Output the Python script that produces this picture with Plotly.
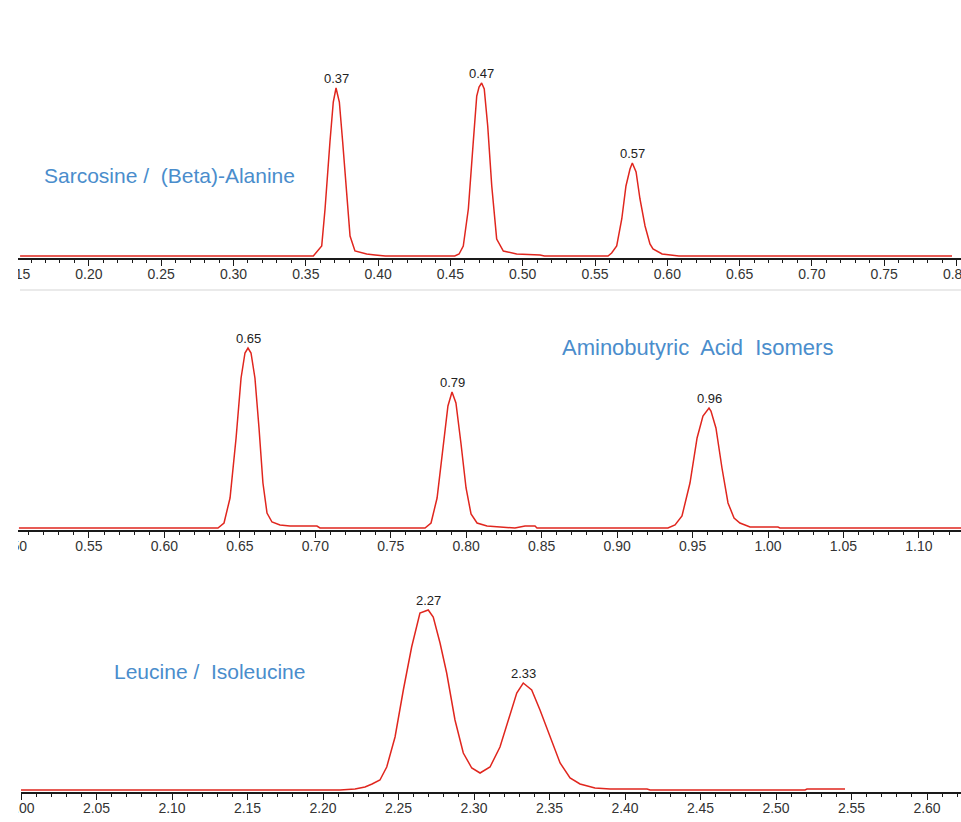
import plotly.graph_objects as go

# ---------------- data (retention time in min, detector signal in arbitrary units) -------------
t_sarc = [0.1524, 0.3552, 0.3610, 0.3633, 0.3667, 0.3690, 0.3709, 0.3732, 0.3755, 0.3783, 0.3806,
          0.3840, 0.3921, 0.3979, 0.4050, 0.4530, 0.4560, 0.4589, 0.4624, 0.4658, 0.4682, 0.4698,
          0.4716, 0.4734, 0.4758, 0.4786, 0.4820, 0.4866, 0.4958, 0.5120, 0.5150, 0.5590, 0.5615,
          0.5650, 0.5685, 0.5714, 0.5742, 0.5758, 0.5784, 0.5811, 0.5846, 0.5880, 0.5901, 0.5964,
          0.6054, 0.6080, 0.7969]
s_sarc = [0, 0, 10, 47, 114, 154, 168, 154, 114, 64, 20,
          5, 2, 1, 0, 0, 2, 10, 47, 114, 160, 169,
          173, 167, 130, 70, 17, 5, 2, 1, 0, 0, 3,
          10, 37, 70, 87, 93, 84, 57, 30, 12, 7, 2,
          1, 0, 0]
peak_sarc_t = [0.3709, 0.4716, 0.5758]
peak_sarc_s = [168, 173, 93]
peak_sarc_lbl = ["0.37", "0.47", "0.57"]

t_abu = [0.5036, 0.6355, 0.6395, 0.6435, 0.6475, 0.6508, 0.6534, 0.6554, 0.6574, 0.6600, 0.6627,
         0.6653, 0.6680, 0.6713, 0.6766, 0.6832, 0.7011, 0.7031, 0.7727, 0.7767, 0.7807, 0.7846,
         0.7879, 0.7906, 0.7932, 0.7965, 0.7999, 0.8032, 0.8072, 0.8138, 0.8224, 0.8323, 0.8390,
         0.8456, 0.8469, 0.9337, 0.9384, 0.9430, 0.9483, 0.9530, 0.9569, 0.9596, 0.9609, 0.9622,
         0.9655, 0.9695, 0.9735, 0.9775, 0.9814, 0.9881, 1.0013, 1.0066, 1.0079, 1.1279]
s_abu = [0, 0, 5, 30, 90, 150, 175, 180, 175, 150, 100,
         45, 15, 6, 3, 2, 2, 0, 0, 5, 30, 80,
         122, 136, 125, 85, 40, 14, 5, 2, 1, 0, 2,
         2, 0, 0, 3, 12, 45, 90, 112, 118, 120, 117,
         100, 60, 25, 10, 5, 1, 1, 1, 0, 0]
peak_abu_t = [0.6554, 0.7906, 0.9609]
peak_abu_s = [180, 136, 120]
peak_abu_lbl = ["0.65", "0.79", "0.96"]

t_leu = [2.0000, 2.2113, 2.2212, 2.2278, 2.2325, 2.2377, 2.2422, 2.2477, 2.2532, 2.2587, 2.2642,
         2.2697, 2.2730, 2.2775, 2.2819, 2.2874, 2.2929, 2.2985, 2.3040, 2.3106, 2.3172, 2.3227,
         2.3283, 2.3326, 2.3382, 2.3437, 2.3503, 2.3570, 2.3636, 2.3702, 2.3801, 2.3901, 2.4033,
         2.4146, 2.4166, 2.5192, 2.5205, 2.5457]
s_leu = [0, 0, 1, 3, 6, 10, 23, 53, 100, 143, 177,
         180, 173, 147, 117, 70, 37, 22, 17, 23, 43, 70,
         97, 107, 100, 80, 53, 27, 12, 6, 2, 1, 1,
         1, 0, 0, 1, 1]
peak_leu_t = [2.2697, 2.3326]
peak_leu_s = [180, 107]
peak_leu_lbl = ["2.27", "2.33"]

titles = ["Sarcosine /  (Beta)-Alanine", "Aminobutyric  Acid  Isomers", "Leucine /  Isoleucine"]

# ---------------- styling / layout ----------------
W, H = 961, 822
RED = "#e0261e"
BLUE = "#4a8dcc"
FONT = "Liberation Sans, Arial, sans-serif"

def py(p):  # pixel from top -> paper fraction
    return 1 - p / H

def px(p):
    return p / W

panels = [
    dict(t=t_sarc, s=s_sarc, pt=peak_sarc_t, ps=peak_sarc_s, pl=peak_sarc_lbl,
         xdom=[px(16.6), 1], xr=[0.15, 0.8031], ydom=[py(258), py(70)], yr=[-2, 186]),
    dict(t=t_abu, s=s_abu, pt=peak_abu_t, ps=peak_abu_s, pl=peak_abu_lbl,
         xdom=[px(13.5), 1], xr=[0.50, 1.1279], ydom=[py(530), py(330)], yr=[-2, 198]),
    dict(t=t_leu, s=s_leu, pt=peak_leu_t, ps=peak_leu_s, pl=peak_leu_lbl,
         xdom=[px(21), 1], xr=[2.00, 2.6225], ydom=[py(792), py(592)], yr=[-2, 198]),
]

fig = go.Figure()
annotations = []
layout = dict(width=W, height=H, margin=dict(l=0, r=0, t=0, b=0, autoexpand=False),
              paper_bgcolor="white", plot_bgcolor="white", showlegend=False,
              font=dict(family=FONT, color="#333"))

for i, p in enumerate(panels, start=1):
    xa = "x" if i == 1 else f"x{i}"
    ya = "y" if i == 1 else f"y{i}"
    fig.add_trace(go.Scatter(x=p["t"], y=p["s"], mode="lines", xaxis=xa, yaxis=ya,
                             line=dict(color=RED, width=1.5), hoverinfo="skip"))
    layout["xaxis" if i == 1 else f"xaxis{i}"] = dict(
        domain=p["xdom"], range=p["xr"], anchor=ya, showgrid=False, zeroline=False,
        showline=True, linecolor="#1a1a1a", linewidth=1.5, automargin=False,
        ticklabeloverflow="allow", ticklabelstandoff=-4,
        ticks="outside", ticklen=6, tickwidth=1.2, tickcolor="#1a1a1a",
        tick0=0, dtick=0.05, tickformat=".2f",
        tickfont=dict(family=FONT, size=14, color="#333"),
        minor=dict(ticks="outside", ticklen=3, tickwidth=1, tickcolor="#1a1a1a",
                   tick0=0, dtick=0.01, showgrid=False),
        fixedrange=True)
    layout["yaxis" if i == 1 else f"yaxis{i}"] = dict(
        domain=p["ydom"], range=p["yr"], anchor=xa, visible=False, fixedrange=True,
        automargin=False)
    for tt, ss, ll in zip(p["pt"], p["ps"], p["pl"]):
        annotations.append(dict(x=tt, y=ss, xref=xa, yref=ya, text=ll, showarrow=False,
                                yanchor="middle", yshift=10,
                                font=dict(family=FONT, size=13, color="#222")))

title_pos = [(169, 176), (697, 347), (209, 671)]
title_size = [21, 22, 21]
for txt, (cx, cy), fs in zip(titles, title_pos, title_size):
    annotations.append(dict(x=px(cx), y=py(cy), xref="paper", yref="paper", text=txt,
                            showarrow=False, xanchor="center", yanchor="middle",
                            font=dict(family=FONT, size=fs, color=BLUE)))

layout["annotations"] = annotations
layout["shapes"] = [
    # faint separator below the first trace
    dict(type="line", xref="paper", yref="paper", x0=px(20), x1=1, y0=py(290), y1=py(290),
         line=dict(color="#e3e3e3", width=1.5), layer="above"),
    # left crop edge of the original image
    dict(type="rect", xref="paper", yref="paper", x0=0, x1=px(18), y0=0, y1=1,
         fillcolor="white", line=dict(width=0), layer="above"),
]
fig.update_layout(**layout)
fig.write_html("out.html")
